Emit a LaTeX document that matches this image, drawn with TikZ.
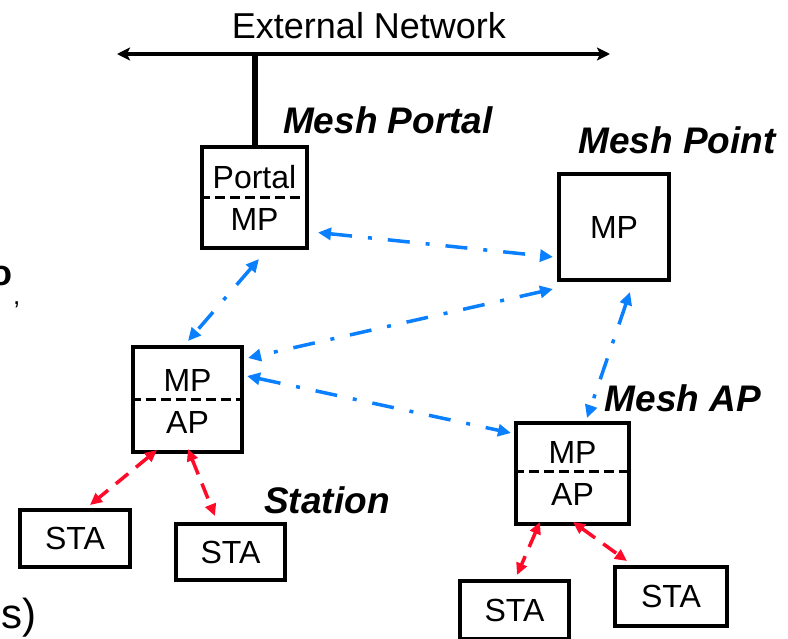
\documentclass[tikz,border=0pt]{standalone}
\usepackage{fontspec}
\setmainfont{Liberation Sans}
\usetikzlibrary{arrows.meta,calc}

\definecolor{linkblue}{RGB}{10,128,255}
\definecolor{linkred}{RGB}{255,10,40}

\newcommand{\boxfont}{\fontsize{32}{38}\selectfont}
\newcommand{\rolefont}{\fontsize{37}{44}\selectfont\bfseries\itshape}
\newcommand{\netfont}{\fontsize{36}{43}\selectfont}

\begin{document}
\begin{tikzpicture}[x=1pt,y=-1pt,
  box/.style={draw=black, line width=4pt, inner sep=0pt},
  boxtext/.style={font=\boxfont, inner sep=0pt},
  role/.style={font=\rolefont, inner sep=0pt},
  divider/.style={line width=3pt, dash pattern=on 10pt off 5pt},
  meshlink/.style={linkblue, line width=3.5pt,
    dash pattern=on 22pt off 16pt on 4pt off 16pt,
    {Triangle[length=13pt,width=12pt]}-{Triangle[length=13pt,width=12pt]}},
  stalink/.style={linkred, line width=3.5pt,
    dash pattern=on 16pt off 10pt,
    {Triangle[length=12pt,width=11pt]}-{Triangle[length=12pt,width=11pt]}},
  backbone/.style={line width=4pt,
    {Stealth[length=13pt,width=13pt,inset=3pt]}-{Stealth[length=13pt,width=13pt,inset=3pt]}}]

\useasboundingbox (0,0) rectangle (788,638);
\clip (0,0) rectangle (788,638);

% external network backbone
\node[font=\netfont, inner sep=0pt] (netlabel) at (369,26) {External Network};
\coordinate (netL) at (117,54);
\coordinate (netR) at (610,54);
\draw[backbone] (netL) -- (netR);

% mesh portal
\node[box, minimum width=105pt, minimum height=101pt] (portal) at (254.5,197.5) {};
\draw[divider] (portal.west) -- (portal.east);
\node[boxtext] (portaltop) at ($(portal.center)+(0,-20.5)$) {Portal};
\node[boxtext] (portalmp) at ($(portal.center)+(0,21.5)$) {MP};
\draw[line width=6pt] (portal.north) -- (portal.north |- netL);
\node[role] (lportal) at (388,120) {Mesh Portal};

% mesh point
\node[box, minimum width=110pt, minimum height=106pt] (mp) at (614,227) {};
\node[boxtext] (mptext) at (mp.center) {MP};
\node[role] (lpoint) at (677,140) {Mesh Point};

% left mesh access point
\node[box, minimum width=109pt, minimum height=105pt] (lap) at (187.5,399.5) {};
\draw[divider] (lap.west) -- (lap.east);
\node[boxtext] (lapmp) at ($(lap.center)+(0,-19.5)$) {MP};
\node[boxtext] (lapap) at ($(lap.center)+(0,22.5)$) {AP};

% right mesh access point
\node[box, minimum width=113pt, minimum height=101pt] (rap) at (572.5,473.5) {};
\draw[divider] ($(rap.west)+(0,-2.5)$) -- ($(rap.east)+(0,-2.5)$);
\node[boxtext] (rapmp) at ($(rap.center)+(0,-21.5)$) {MP};
\node[boxtext] (rapap) at ($(rap.center)+(0,20.5)$) {AP};
\node[role] (lmap) at (683,398) {Mesh AP};

% stations
\node[box, minimum width=110pt, minimum height=57pt] (staA) at (75,538.5) {};
\node[boxtext] at (staA.center) {STA};
\node[box, minimum width=109pt, minimum height=56pt] (staB) at (230.5,552) {};
\node[boxtext] at (staB.center) {STA};
\node[box, minimum width=109pt, minimum height=58pt] (staC) at (514.5,610) {};
\node[boxtext] at (staC.center) {STA};
\node[box, minimum width=112pt, minimum height=59pt] (staD) at (671,596.5) {};
\node[boxtext] at (staD.center) {STA};
\node[role] (lsta) at (327,500) {Station};

% mesh links
\draw[meshlink] ($(portal.east)+(9,35)$) -- ($(mp.west)+(-4,30)$);
\draw[meshlink] ($(portal.south)+(4.5,9)$) -- ($(lap.north)+(0.5,-4)$);
\draw[meshlink] ($(mp.south west)+(-4,7)$) -- ($(lap.east)+(4,-41.5)$);
\draw[meshlink] ($(lap.east)+(3,-23.5)$) -- ($(rap.west)+(-3,-40.5)$);
\draw[meshlink] ($(mp.south)+(16,10)$) -- ($(rap.north)+(14.5,-3)$);

% station links
\draw[stalink] ($(lap.south)+(-30.5,-4)$) -- ($(staA.north)+(15,-3)$);
\draw[stalink] ($(lap.south)+(0.5,-5)$) -- ($(staB.north)+(-15.5,-6)$);
\draw[stalink] ($(rap.south)+(-32.5,-4)$) -- ($(staC.north)+(2.5,-4)$);
\draw[stalink] ($(rap.south)+(0.5,-4)$) -- ($(staD.north)+(-44,-4)$);

% text running in from the left margin
\node[font=\fontsize{36}{43}\selectfont\bfseries, inner sep=0pt, anchor=base east] (edgeo) at (13,285) {o};
\node[font=\fontsize{26}{31}\selectfont, inner sep=0pt, anchor=base west] (edgecomma) at (13,304) {,};
\node[font=\fontsize{42}{50}\selectfont, inner sep=0pt, anchor=base east] (edgeparen) at (37,628) {s)};
\end{tikzpicture}
\end{document}
